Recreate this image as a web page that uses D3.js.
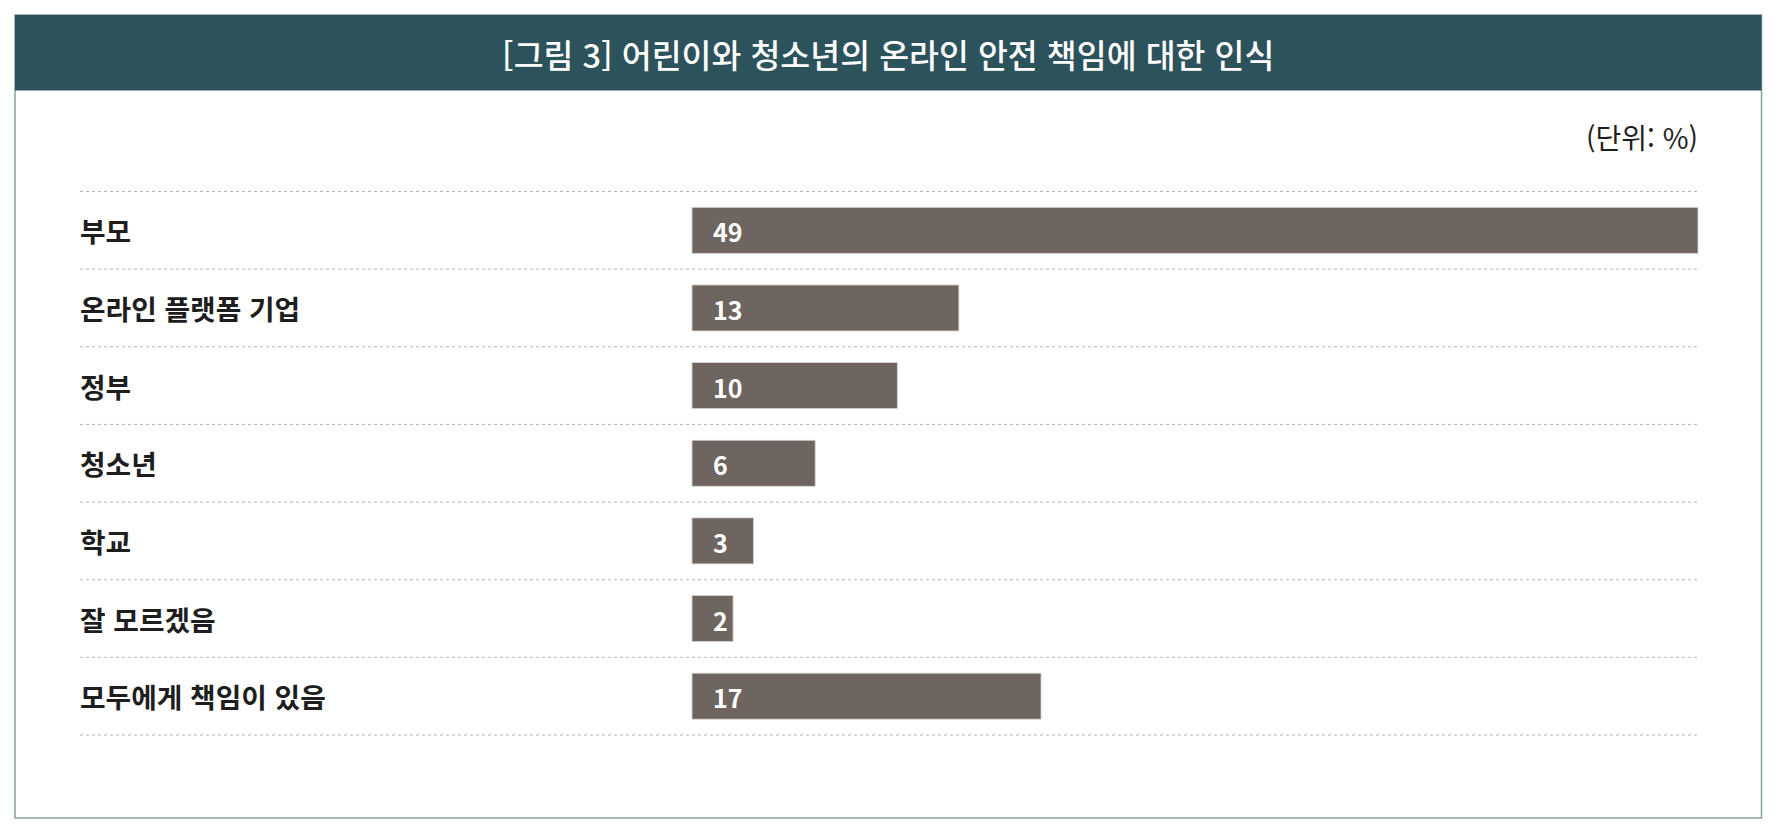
<!DOCTYPE html>
<html lang="ko">
<head>
<meta charset="utf-8">
<title>어린이와 청소년의 온라인 안전 책임에 대한 인식</title>
<script src="https://cdn.jsdelivr.net/npm/d3@7"></script>
<style>
  html, body { margin: 0; padding: 0; background: #fff; }
  svg { display: block; font-family: "Noto Sans CJK KR", "Noto Sans", sans-serif; }
  .cat-label { font-size: 27.8px; font-weight: 700; fill: #1e1e1e; }
  .value-label { font-size: 25px; font-weight: 700; fill: #fff; }
  .unit-label { font-size: 28px; font-weight: 400; fill: #1e1e1e; }
  .chart-title { font-size: 32.5px; font-weight: 500; fill: #fff; }
</style>
</head>
<body>
<div id="chart"></div>
<script>
// Values (percent).
const TITLE = '[그림 3] 어린이와 청소년의 온라인 안전 책임에 대한 인식';
const UNIT = '(단위: %)';
const categories = ['부모', '온라인 플랫폼 기업', '정부', '청소년', '학교', '잘 모르겠음', '모두에게 책임이 있음'];
const values = [49, 13, 10, 6, 3, 2, 17];

const WIDTH = 1787;
const HEIGHT = 839;
const FRAME = { left: 15, top: 15, right: 1761.5, bottom: 818 };
const TITLE_BAR_HEIGHT = 75.5;
const PLOT = { left: 692, right: 1698, top: 191.5, bottom: 735 };
const LABEL_X = 80;
const BAR_COLOR = '#6e6561';
const TITLE_BG = '#2c525b';

const svg = d3.select('#chart')
  .append('svg')
  .attr('width', WIDTH)
  .attr('height', HEIGHT);

// outer frame + title band
svg.append('rect')
  .attr('x', FRAME.left)
  .attr('y', FRAME.top)
  .attr('width', FRAME.right - FRAME.left)
  .attr('height', FRAME.bottom - FRAME.top)
  .attr('fill', '#fff')
  .attr('stroke', '#86a0a5')
  .attr('stroke-width', 1.5);

svg.append('rect')
  .attr('x', FRAME.left)
  .attr('y', FRAME.top)
  .attr('width', FRAME.right - FRAME.left)
  .attr('height', TITLE_BAR_HEIGHT)
  .attr('fill', TITLE_BG);

svg.append('text')
  .attr('class', 'chart-title')
  .attr('x', (FRAME.left + FRAME.right) / 2)
  .attr('y', FRAME.top + TITLE_BAR_HEIGHT / 2 + 1)
  .attr('text-anchor', 'middle')
  .attr('dominant-baseline', 'central')
  .text(TITLE);

svg.append('text')
  .attr('class', 'unit-label')
  .attr('x', PLOT.right)
  .attr('y', 137)
  .attr('text-anchor', 'end')
  .attr('dominant-baseline', 'central')
  .text(UNIT);

const x = d3.scaleLinear().domain([0, d3.max(values)]).range([PLOT.left, PLOT.right]);
const y = d3.scaleBand()
  .domain(categories)
  .range([PLOT.top, PLOT.bottom])
  .paddingInner(0.4075)
  .paddingOuter(0.20375);

// dashed separators at every row boundary
const step = y.step();
const rowEdges = d3.range(categories.length + 1).map((i) => PLOT.top + i * step);
svg.append('g')
  .selectAll('line')
  .data(rowEdges)
  .join('line')
  .attr('x1', LABEL_X)
  .attr('x2', PLOT.right)
  .attr('y1', (d) => d)
  .attr('y2', (d) => d)
  .attr('stroke', '#b4b4b4')
  .attr('stroke-width', 1)
  .attr('stroke-dasharray', '3,3');

const rows = categories.map((c, i) => ({ cat: c, value: values[i] }));

svg.append('g')
  .selectAll('rect')
  .data(rows)
  .join('rect')
  .attr('x', x(0))
  .attr('y', (d) => y(d.cat))
  .attr('width', (d) => x(d.value) - x(0))
  .attr('height', y.bandwidth())
  .attr('fill', BAR_COLOR)
  .attr('stroke', '#d8d4d2')
  .attr('stroke-width', 0.8);

svg.append('g')
  .selectAll('text')
  .data(rows)
  .join('text')
  .attr('class', 'cat-label')
  .attr('x', LABEL_X)
  .attr('y', (d) => y(d.cat) + y.bandwidth() / 2)
  .attr('dominant-baseline', 'central')
  .text((d) => d.cat);

svg.append('g')
  .selectAll('text')
  .data(rows)
  .join('text')
  .attr('class', 'value-label')
  .attr('x', x(0) + 21)
  .attr('y', (d) => y(d.cat) + y.bandwidth() / 2 + 1)
  .attr('dominant-baseline', 'central')
  .text((d) => d.value);
</script>
</body>
</html>
